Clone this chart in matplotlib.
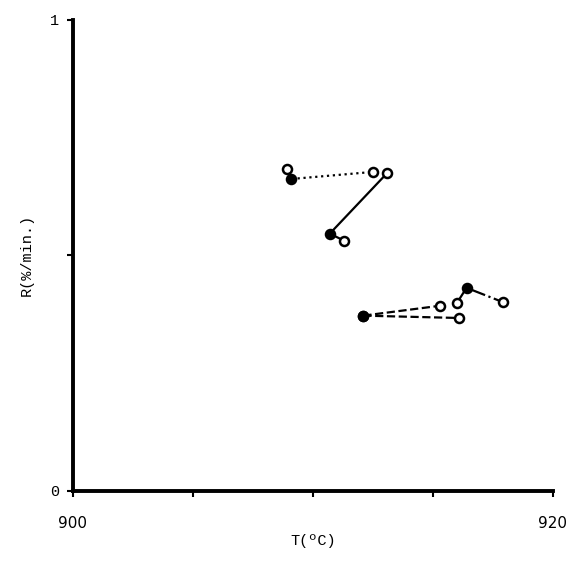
import matplotlib.pyplot as plt

# series: (x list, y list, filled flags, linestyle)
dot_x = [908.9, 909.1, 912.5]
dot_y = [0.684, 0.662, 0.677]
dot_f = [False, True, False]

sol_x = [911.3, 910.7, 913.1]
sol_y = [0.531, 0.546, 0.675]
sol_f = [False, True, False]

dash1_x = [912.1, 915.3]
dash1_y = [0.372, 0.393]
dash2_x = [912.1, 916.1]
dash2_y = [0.372, 0.367]
dash_f = [True, False]

dd_x = [916.0, 916.4, 917.9]
dd_y = [0.399, 0.431, 0.401]
dd_f = [False, True, False]

fig = plt.figure(figsize=(5.68, 5.63), dpi=100)
ax = fig.add_axes([0.1285, 0.128, 0.845, 0.837])

def draw(xs, ys, filled, ls):
    ax.plot(xs, ys, color='black', linestyle=ls, linewidth=1.6, zorder=1)
    for x, y, f in zip(xs, ys, filled):
        ax.plot(x, y, 'o', markersize=6.5, markeredgewidth=1.8, color='black',
                markerfacecolor='black' if f else 'white', zorder=2)

draw(dot_x, dot_y, dot_f, ':')
draw(sol_x, sol_y, sol_f, '-')
draw(dash1_x, dash1_y, dash_f, '--')
draw(dash2_x, dash2_y, dash_f, '--')
draw(dd_x, dd_y, dd_f, '-.')

ax.set_xlim(900, 920)
ax.set_ylim(0, 1)
ax.spines['top'].set_visible(False)
ax.spines['right'].set_visible(False)
ax.spines['left'].set_linewidth(2.8)
ax.spines['bottom'].set_linewidth(2.8)
ax.set_xticks([900, 905, 910, 915, 920])
ax.set_xticklabels(['900', '', '', '', '920'])
ax.set_yticks([0, 0.5, 1])
ax.set_yticklabels(['0', '', '1'])
ax.tick_params(axis='x', length=4, width=1.5, pad=14, labelsize=11)
ax.tick_params(axis='y', length=4, width=1.5, pad=6, labelsize=11)
for lbl in ax.get_yticklabels():
    lbl.set_family('Liberation Mono')
ax.set_xlabel('T(ºC)', family='Liberation Mono', fontsize=11, labelpad=2)
ax.set_ylabel('R(%/min.)', family='Liberation Mono', fontsize=11, labelpad=12)

fig.savefig('out.png', dpi=100)
